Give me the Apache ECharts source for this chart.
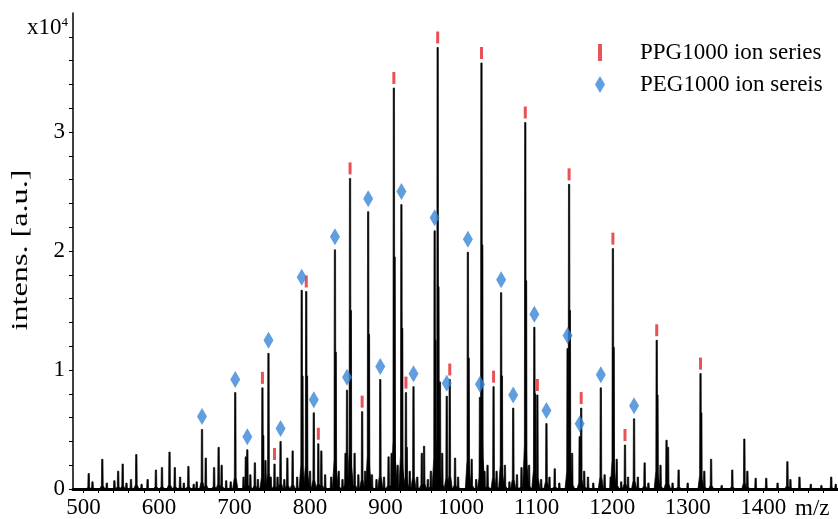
<!DOCTYPE html>
<html>
<head>
<meta charset="utf-8">
<script src="https://cdn.jsdelivr.net/npm/echarts@6/dist/echarts.min.js"></script>
<style>
    html, body { margin: 0; padding: 0; background: #fff; }
    #chart_spectrum { width: 838px; height: 519px; }
</style>
</head>
<body>
<div id="chart_spectrum"></div>
<script>
// PPG1000, [M+Na]+ and [M+K]+ (m/z, intensity x10^4)
var ppgNaMz = [737, 795, 853, 911, 969, 1027, 1085, 1143, 1201, 1259, 1317];
var ppgNaInt = [0.85, 1.66, 2.61, 3.37, 3.71, 3.58, 3.08, 2.56, 2.02, 1.25, 0.97];
var ppgKMz = [753, 811, 869, 927, 985, 1043, 1101, 1159, 1217];
var ppgKInt = [0.21, 0.38, 0.65, 0.81, 0.92, 0.86, 0.79, 0.68, 0.37];

// PEG1000, [M+Na]+ and [M+K]+
var pegNaMz = [657, 701, 745, 789, 833, 877, 921, 965, 1009, 1053, 1097, 1141, 1185, 1229];
var pegNaInt = [0.50, 0.81, 1.14, 1.67, 2.01, 2.33, 2.39, 2.17, 1.99, 1.65, 1.36, 1.18, 0.85, 0.59];
var pegKMz = [717, 761, 805, 849, 893, 937, 981, 1025, 1069, 1113, 1157];
var pegKInt = [0.33, 0.40, 0.64, 0.83, 0.92, 0.86, 0.78, 0.77, 0.68, 0.55, 0.44];

// isotope shoulders next to the big peaks
var isoMz = [738, 790, 796, 834, 854, 878, 912, 922, 966, 970, 972, 1010, 1028, 1054, 1086, 1098, 1144, 1202, 1260, 1318];
var isoInt = [0.45, 0.95, 0.95, 1.15, 1.50, 1.30, 1.95, 1.35, 1.25, 1.70, 0.90, 1.10, 2.05, 0.95, 1.75, 0.80, 1.50, 1.19, 0.79, 0.64];

// unassigned peaks
var otherMz = [507, 512, 525, 531, 541, 546, 552, 557, 563, 570, 577, 585, 596, 604, 614, 621, 628, 633, 639, 646,
    650, 662, 673, 679, 683, 689, 695, 712, 715, 721, 727, 731, 741, 748, 757, 766, 770, 777, 783, 800,
    815, 820, 828, 838, 843, 847, 859, 864, 873, 882, 888, 898, 904, 908, 916, 928, 932, 942, 948, 951,
    956, 960, 975, 992, 996, 1014, 1020, 1031, 1035, 1047, 1058, 1064, 1074, 1080, 1090, 1106, 1117, 1124, 1130, 1147,
    1163, 1168, 1175, 1190, 1198, 1206, 1212, 1221, 1234, 1243, 1248, 1264, 1272, 1274, 1280, 1288, 1300, 1322, 1331, 1345,
    1359, 1375, 1379, 1390, 1404, 1419, 1432, 1436, 1448, 1463, 1477, 1490, 1496];
var otherInt = [0.13, 0.06, 0.25, 0.05, 0.07, 0.15, 0.21, 0.05, 0.08, 0.29, 0.04, 0.08, 0.16, 0.18, 0.31, 0.18, 0.10, 0.05, 0.19, 0.04,
    0.06, 0.26, 0.18, 0.35, 0.20, 0.07, 0.06, 0.10, 0.27, 0.12, 0.22, 0.08, 0.24, 0.10, 0.10, 0.08, 0.26, 0.32, 0.10, 0.15,
    0.32, 0.12, 0.10, 0.15, 0.08, 0.30, 0.30, 0.12, 0.15, 0.12, 0.08, 0.10, 0.27, 0.30, 0.20, 0.35, 0.15, 0.10, 0.30, 0.36,
    0.08, 0.15, 0.30, 0.26, 0.10, 0.25, 0.08, 0.15, 0.20, 0.15, 0.20, 0.06, 0.12, 0.18, 0.20, 0.08, 0.10, 0.17, 0.05, 0.30,
    0.15, 0.10, 0.05, 0.12, 0.10, 0.25, 0.06, 0.10, 0.10, 0.22, 0.05, 0.20, 0.41, 0.35, 0.05, 0.16, 0.05, 0.15, 0.25, 0.03,
    0.16, 0.42, 0.15, 0.09, 0.09, 0.05, 0.23, 0.08, 0.10, 0.04, 0.03, 0.10, 0.04];

var xTickLabels = [500, 600, 700, 800, 900, 1000, 1100, 1200, 1300, 1400];
var xMinorTicks = [500, 520, 540, 560, 580, 600, 620, 640, 660, 680, 700, 720, 740, 760, 780, 800, 820, 840, 860, 880,
    900, 920, 940, 960, 980, 1000, 1020, 1040, 1060, 1080, 1100, 1120, 1140, 1160, 1180, 1200, 1220, 1240, 1260, 1280,
    1300, 1320, 1340, 1360, 1380, 1400, 1420, 1440, 1460, 1480];
var yTickLabels = [0, 1, 2, 3];
var yMinorTicks = [0, 0.2, 0.4, 0.6, 0.8, 1, 1.2, 1.4, 1.6, 1.8, 2, 2.2, 2.4, 2.6, 2.8, 3, 3.2, 3.4, 3.6, 3.8];

var FONT = 'Liberation Serif';

function pairs(mz, vals) {
    var out = [];
    for (var i = 0; i < mz.length; i++) {
        out.push([mz[i], vals[i]]);
    }
    return out;
}

var spectrum = {
    peaks: function () {
        return [].concat(
            pairs(otherMz, otherInt),
            pairs(isoMz, isoInt),
            pairs(ppgKMz, ppgKInt),
            pairs(pegKMz, pegKInt),
            pairs(pegNaMz, pegNaInt),
            pairs(ppgNaMz, ppgNaInt)
        );
    },

    // one thin spike per peak, base slightly flared
    renderPeak: function (params, api) {
        var mz = api.value(0);
        var h = api.value(1);
        var p = function (dx, y) { return api.coord([mz + dx, y]); };
        return {
            type: 'polygon',
            shape: {
                points: [p(-3.4, 0), p(-1.2, h * 0.12), p(-0.85, h), p(0.85, h), p(1.2, h * 0.12), p(3.4, 0)]
            },
            style: { fill: '#000', stroke: '#000', lineWidth: 0.7 }
        };
    }
};

var chart = echarts.init(document.getElementById('chart_spectrum'));

chart.setOption({
    animation: false,
    backgroundColor: '#fff',
    textStyle: { fontFamily: FONT, color: '#000' },
    grid: { left: 73, right: 0, top: 13, bottom: 30, containLabel: false },
    legend: {
        orient: 'vertical',
        left: 590,
        top: 36,
        itemWidth: 70,
        itemHeight: 17,
        itemGap: 9,
        textStyle: { fontFamily: FONT, fontSize: 23, color: '#000' },
        data: [
            { name: 'PPG1000 ion series', icon: 'path://M0,0L3,0L3,13L0,13Z' },
            { name: 'PEG1000 ion sereis', icon: 'path://M5,0L10,8.5L5,17L0,8.5Z' }
        ]
    },
    xAxis: {
        type: 'value',
        min: 486.2,
        max: 1499,
        axisLine: { lineStyle: { color: '#000', width: 3 } },
        axisTick: { customValues: xMinorTicks, length: 4, lineStyle: { color: '#000' } },
        axisLabel: {
            customValues: xTickLabels, fontSize: 23, color: '#000', margin: 7, fontFamily: FONT,
            formatter: function (v) { return String(v); }
        },
        splitLine: { show: false }
    },
    yAxis: {
        type: 'value',
        min: 0,
        max: 4,
        axisLine: { show: true, lineStyle: { color: '#000', width: 1.5 } },
        axisTick: { customValues: yMinorTicks, length: 4, lineStyle: { color: '#000' } },
        axisLabel: { customValues: yTickLabels, fontSize: 23, color: '#000', margin: 8, fontFamily: FONT },
        splitLine: { show: false }
    },
    graphic: [
        {
            type: 'text',
            x: 21,
            y: 250,
            rotation: Math.PI / 2,
            scaleX: 1.4,
            style: {
                text: 'intens. [a.u.]',
                font: '23px "Liberation Serif"',
                fill: '#000',
                align: 'center',
                verticalAlign: 'middle'
            }
        },
        {
            type: 'text',
            right: 770,
            top: 16,
            style: {
                text: 'x10{s|4}',
                font: '23px "Liberation Serif"',
                fill: '#000',
                rich: { s: { fontSize: 13, verticalAlign: 'top', padding: [0, 0, 10, 0], fontFamily: FONT } }
            }
        },
        {
            type: 'text',
            left: 795,
            top: 497,
            style: { text: 'm/z', font: '23px "Liberation Serif"', fill: '#000' }
        }
    ],
    series: [
        {
            name: 'spectrum',
            type: 'custom',
            renderItem: spectrum.renderPeak,
            encode: { x: 0, y: 1 },
            clip: true,
            data: spectrum.peaks(),
            z: 2
        },
        {
            name: 'PPG1000 ion series',
            type: 'scatter',
            symbol: 'rect',
            symbolSize: [3, 12],
            symbolOffset: [0, -10],
            itemStyle: { color: '#e3262c' },
            data: pairs(ppgNaMz, ppgNaInt).concat(pairs(ppgKMz, ppgKInt)),
            z: 3
        },
        {
            name: 'PEG1000 ion sereis',
            type: 'scatter',
            symbol: 'diamond',
            symbolSize: [10, 17],
            symbolOffset: [0, -13],
            itemStyle: { color: '#3a86d8' },
            data: pairs(pegNaMz, pegNaInt).concat(pairs(pegKMz, pegKInt)),
            z: 3
        }
    ]
});
</script>
</body>
</html>
